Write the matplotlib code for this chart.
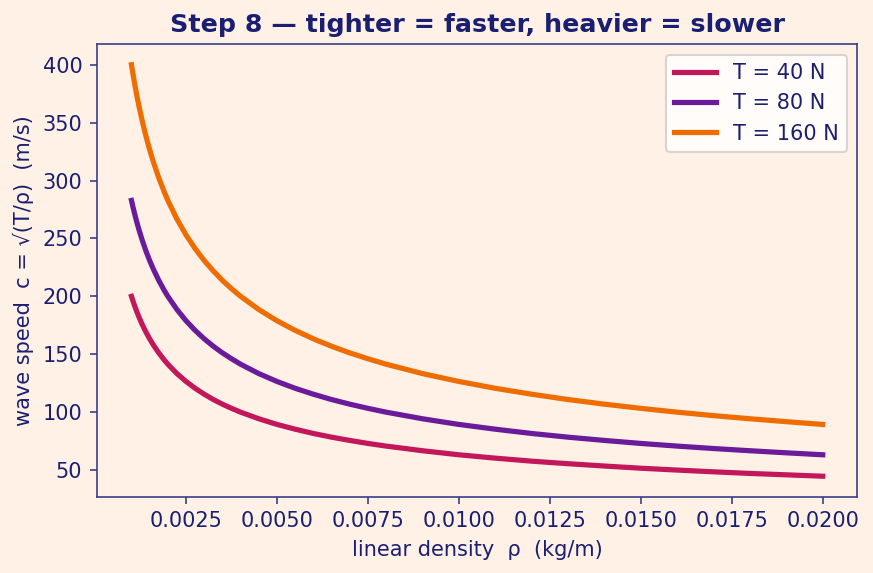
import matplotlib
matplotlib.use("Agg")
import matplotlib.pyplot as plt

# values
rho = [0.001, 0.00105, 0.0011, 0.00115, 0.0012, 0.0013, 0.0014, 0.0015, 0.0016,
       0.00175, 0.0019, 0.002, 0.00225, 0.0025, 0.00275, 0.003, 0.00325, 0.0035,
       0.00375, 0.004, 0.0045, 0.005, 0.0055, 0.006, 0.0065, 0.007, 0.0075,
       0.008, 0.009, 0.010, 0.011, 0.012, 0.013, 0.014, 0.015, 0.016, 0.017,
       0.018, 0.019, 0.020]
c_40 = [200.0, 195.2, 190.7, 186.5, 182.6, 175.4, 169.0, 163.3, 158.1, 151.2,
        145.1, 141.4, 133.3, 126.5, 120.6, 115.5, 110.9, 106.9, 103.3, 100.0,
        94.3, 89.4, 85.3, 81.6, 78.4, 75.6, 73.0, 70.7, 66.7, 63.2,
        60.3, 57.7, 55.5, 53.5, 51.6, 50.0, 48.5, 47.1, 45.9, 44.7]
c_80 = [282.8, 276.0, 269.7, 263.8, 258.2, 248.1, 239.0, 230.9, 223.6, 213.8,
        205.2, 200.0, 188.6, 178.9, 170.6, 163.3, 156.9, 151.2, 146.1, 141.4,
        133.3, 126.5, 120.6, 115.5, 110.9, 106.9, 103.3, 100.0, 94.3, 89.4,
        85.3, 81.6, 78.4, 75.6, 73.0, 70.7, 68.6, 66.7, 64.9, 63.2]
c_160 = [400.0, 390.4, 381.4, 373.0, 365.1, 350.9, 338.1, 326.6, 316.2, 302.4,
         290.2, 282.8, 266.7, 253.0, 241.2, 230.9, 221.9, 213.8, 206.6, 200.0,
         188.6, 178.9, 170.6, 163.3, 156.9, 151.2, 146.1, 141.4, 133.3, 126.5,
         120.6, 115.5, 110.9, 106.9, 103.3, 100.0, 97.0, 94.3, 91.8, 89.4]
labels = ["T = 40 N", "T = 80 N", "T = 160 N"]

bg = "#fff1e6"
ink = "#1a1f71"
colors = ["#c2185b", "#6a1b9a", "#ef6c00"]

fig, ax = plt.subplots(figsize=(5.82, 3.82), dpi=150)
fig.patch.set_facecolor(bg)
ax.set_facecolor(bg)

for series, lab, col in zip([c_40, c_80, c_160], labels, colors):
    ax.plot(rho, series, color=col, linewidth=2.5, label=lab)

ax.set_title("Step 8 — tighter = faster, heavier = slower",
             fontsize=12.2, fontweight="bold", color=ink)
ax.set_xlabel("linear density  ρ  (kg/m)", fontsize=10, color=ink)
ax.set_ylabel("wave speed  c = √(T/ρ)  (m/s)", fontsize=10, color=ink)
ax.tick_params(colors="#3a3d8a", labelcolor=ink, labelsize=10)
for s in ax.spines.values():
    s.set_color("#3a3d8a")

leg = ax.legend(loc="upper right", fontsize=10, labelcolor=ink)

fig.subplots_adjust(left=0.111, right=0.982, top=0.923, bottom=0.133)
fig.savefig("out.png", dpi=150, facecolor=bg)
